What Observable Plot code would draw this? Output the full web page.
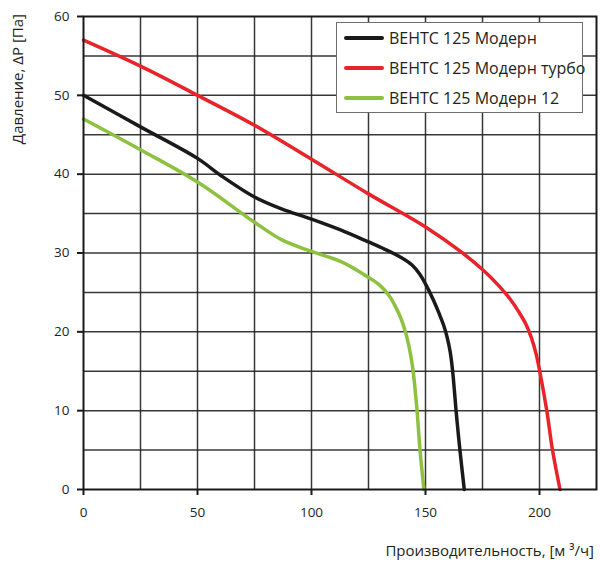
<!DOCTYPE html>
<html>
<head>
<meta charset="utf-8">
<script src="https://cdn.jsdelivr.net/npm/d3@7"></script>
<script src="https://cdn.jsdelivr.net/npm/@observablehq/plot@0.6"></script>
<style>
  html, body { margin: 0; padding: 0; background: #fff; }
  #wrap { position: relative; width: 600px; height: 565px; font-family: "Open Sans", sans-serif; color: #231f20; }
  #legend { position: absolute; left: 336px; top: 22px; width: 247px; height: 91px; background: #fff; border: 1px solid #6d6d6d; box-sizing: border-box; }
  .item { position: absolute; left: 7px; height: 20px; display: flex; align-items: center; font-size: 16px; white-space: nowrap; }
  .sw { width: 40px; height: 0; border-top: 4px solid; border-radius: 2px; margin-right: 5px; }
</style>
</head>
<body>
<div id="wrap"></div>
<script>
// Series names and colours
const seriesNames = ["ВЕНТС 125 Модерн", "ВЕНТС 125 Модерн турбо", "ВЕНТС 125 Модерн 12"];
const seriesColors = ["#1a1a1a", "#e8232a", "#8dc13f"];

// Curve points: flow [m³/h] and pressure [Pa]
const blackFlow = [0, 25, 50, 60.4, 75, 86.8, 100, 113, 125, 132, 139.5, 144, 147.5, 150.5, 153.5, 156, 158, 159.5, 160.8, 161.8, 162.6, 163.4, 165.1, 167];
const blackPres = [50, 46, 42, 39.8, 37.1, 35.6, 34.3, 32.9, 31.4, 30.5, 29.4, 28.5, 27.3, 25.8, 24.0, 22.3, 20.8, 19.3, 17.5, 15.3, 12.8, 10, 5, 0];

const redFlow = [0, 25, 50, 75, 100, 125, 150, 165.8, 175, 182, 187, 191, 194, 196.5, 198.5, 200.1, 203.2, 205.7, 209];
const redPres = [57, 53.7, 50, 46.2, 41.9, 37.5, 33.3, 30.1, 27.9, 25.9, 24.2, 22.5, 21, 19.2, 17.2, 15, 10, 5, 0];

const greenFlow = [0, 25, 50, 75, 86.8, 100, 113, 125, 130, 134, 137, 139.5, 141.5, 143, 144.5, 145.5, 146.3, 147.6, 149.3];
const greenPres = [47, 43.1, 39, 33.9, 31.7, 30.2, 28.9, 26.9, 25.9, 24.6, 23.1, 21.5, 19.7, 17.8, 15.2, 12.5, 10, 5, 0];

// Axis ticks
const xTicks = [0, 50, 100, 150, 200];
const yTicks = [0, 10, 20, 30, 40, 50, 60];
const xGrid = [25, 50, 75, 100, 125, 150, 175, 200];
const yGrid = [5, 10, 15, 20, 25, 30, 35, 40, 45, 50, 55];

const xLabel = "Производительность, [м ³/ч]";
const yLabel = "Давление, ΔP [Па]";

const flows = [blackFlow, redFlow, greenFlow];
const pres = [blackPres, redPres, greenPres];
const data = [];
seriesNames.forEach((name, i) => {
  flows[i].forEach((f, j) => data.push({series: name, x: f, y: pres[i][j]}));
});

const chart = Plot.plot({
  width: 600,
  height: 565,
  marginLeft: 83,
  marginRight: 4,
  marginTop: 16,
  marginBottom: 76,
  style: {fontFamily: "Open Sans, sans-serif", fontSize: "13px", color: "#231f20", background: "transparent"},
  x: {domain: [0, 225]},
  y: {domain: [0, 60]},
  color: {domain: seriesNames, range: seriesColors},
  marks: [
    Plot.gridX(xGrid, {stroke: "#222", strokeOpacity: 0.9, strokeWidth: 1.5}),
    Plot.gridY(yGrid, {stroke: "#222", strokeOpacity: 0.9, strokeWidth: 1.5}),
    Plot.line(data, {x: "x", y: "y", z: "series", stroke: "series", strokeWidth: 3.5, curve: "catmull-rom"}),
    Plot.frame({stroke: "#1a1a1a", strokeWidth: 2}),
    Plot.axisX(xTicks, {tickSize: 6, tickPadding: 12, label: null, stroke: "#1a1a1a", strokeWidth: 2, fontSize: 13.5}),
    Plot.axisY(yTicks, {tickSize: 6, tickPadding: 8, label: null, stroke: "#1a1a1a", strokeWidth: 2, fontSize: 13.5})
  ]
});

const svg = d3.select(chart);
svg.append("text")
  .attr("transform", "translate(23,14) rotate(-90)")
  .attr("text-anchor", "end")
  .attr("font-size", 15)
  .attr("fill", "#231f20")
  .text(yLabel);
svg.append("text")
  .attr("x", 594)
  .attr("y", 556)
  .attr("text-anchor", "end")
  .attr("font-size", 15)
  .attr("fill", "#231f20")
  .text(xLabel);

const wrap = document.getElementById("wrap");
wrap.appendChild(chart);

const legend = document.createElement("div");
legend.id = "legend";
seriesNames.forEach((name, i) => {
  const it = document.createElement("div");
  it.className = "item";
  it.style.top = (5 + i * 30) + "px";
  const sw = document.createElement("span");
  sw.className = "sw";
  sw.style.borderTopColor = seriesColors[i];
  const tx = document.createElement("span");
  tx.textContent = name;
  it.appendChild(sw);
  it.appendChild(tx);
  legend.appendChild(it);
});
wrap.appendChild(legend);
</script>
</body>
</html>
